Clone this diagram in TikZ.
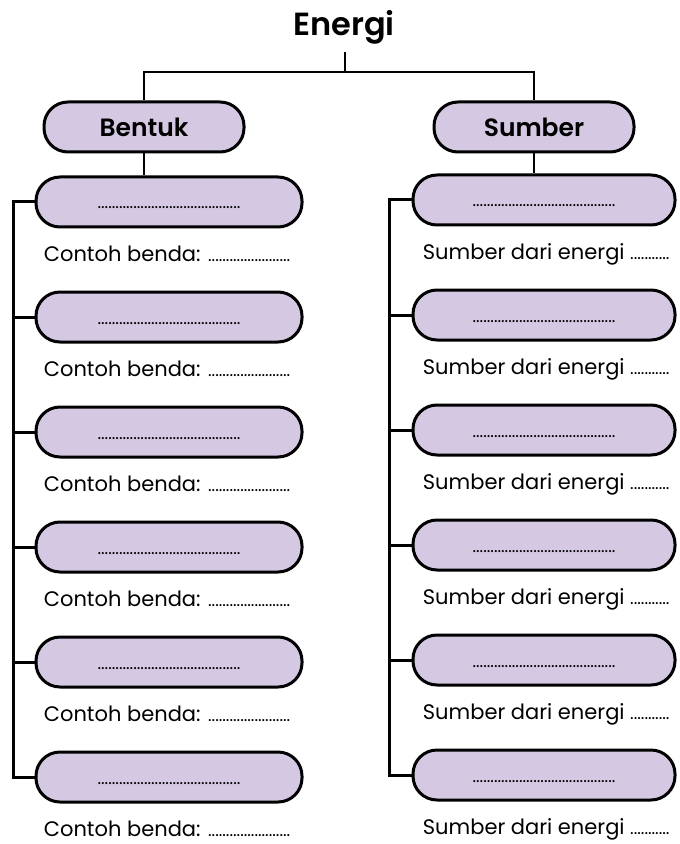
\documentclass[tikz,border=0pt]{standalone}
\usepackage{fontspec}
\setmainfont{Poppins}
\newfontfamily\headfont{Poppins SemiBold}
\usepackage{xcolor}
\usepackage{tikz}
\usetikzlibrary{positioning}
\definecolor{pilllilac}{RGB}{212,200,226}
\newcommand{\dotrow}[1]{{\fontsize{8.5}{9}\selectfont\foreach \k in {1,...,#1}{.}}}

\begin{document}
\begin{tikzpicture}[x=0.5pt, y=-0.5pt,
        pill/.style={draw=black, line width=1.5pt, fill=pilllilac, rounded corners=12pt, minimum height=25pt, inner sep=0pt},
        link/.style={line width=1.2pt},
        spine/.style={line width=1.5pt},
        caption/.style={anchor=north west, inner sep=0pt, font=\fontsize{10.5}{12}\selectfont}]
        \useasboundingbox (0,0) rectangle (679,844);
        \pgfmathsetmacro{\rowgap}{115}
        \coordinate (hub) at (345,72);
        \coordinate (lspine) at (13,0);
        \coordinate (rspine) at (389,0);

        \node[anchor=base, font=\fontsize{16}{19}\headfont] (energi) at (344,36) {Energi};
        \node[pill, minimum width=100pt, font=\fontsize{12.5}{15}\headfont] (bentuk) at (144,127) {Bentuk};
        \node[pill, minimum width=100pt, font=\fontsize{12.5}{15}\headfont] (sumber) at (534,127) {Sumber};

        \foreach \i in {1,...,6}{
            \node[pill, minimum width=133pt] (bentukbox\i) at (169, {202+(\i-1)*\rowgap}) {\raisebox{-3.5pt}[0pt][0pt]{\dotrow{40}}};
            \node[caption, below right=8.5pt and 4.5pt of bentukbox\i.south west] (contoh\i) {Contoh benda: \dotrow{23}};
            \node[pill, minimum width=131pt] (sumberbox\i) at (544, {200+(\i-1)*\rowgap}) {\raisebox{-3.5pt}[0pt][0pt]{\dotrow{40}}};
            \node[caption, below right=8.5pt and 5.5pt of sumberbox\i.south west] (asal\i) {Sumber dari energi \dotrow{11}};
        }

        \draw[link] (energi.south -| hub) -- (hub);
        \draw[link] (bentuk.north) |- (hub) -| (sumber.north);
        \draw[link] (bentuk.south) -- (bentuk.south |- bentukbox1.north);
        \draw[link] (sumber.south) -- (sumber.south |- sumberbox1.north);

        \draw[spine] (bentukbox1.west) -- (bentukbox1.west -| lspine) -- (bentukbox6.west -| lspine) -- (bentukbox6.west);
        \draw[spine] (sumberbox1.west) -- (sumberbox1.west -| rspine) -- (sumberbox6.west -| rspine) -- (sumberbox6.west);
        \foreach \i in {2,...,5}{
            \draw[spine] (lspine |- bentukbox\i.west) -- (bentukbox\i.west);
            \draw[spine] (rspine |- sumberbox\i.west) -- (sumberbox\i.west);
        }
    \end{tikzpicture}
\end{document}
